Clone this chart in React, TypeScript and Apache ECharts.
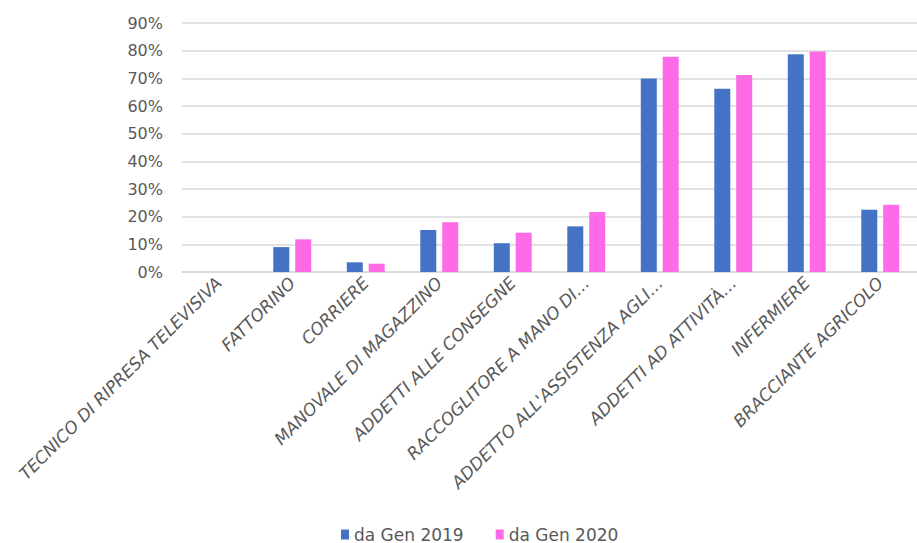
import React, { useEffect, useRef } from "react";
import * as echarts from "echarts";

const categories = [
  "TECNICO DI RIPRESA TELEVISIVA",
  "FATTORINO",
  "CORRIERE",
  "MANOVALE DI MAGAZZINO",
  "ADDETTI ALLE CONSEGNE",
  "RACCOGLITORE A MANO DI…",
  "ADDETTO ALL'ASSISTENZA AGLI…",
  "ADDETTI AD ATTIVITÀ…",
  "INFERMIERE",
  "BRACCIANTE AGRICOLO",
];
const seriesNames = ["da Gen 2019", "da Gen 2020"];
const values2019 = [0, 9, 3.5, 15.2, 10.4, 16.5, 69.9, 66.2, 78.7, 22.5];
const values2020 = [0, 11.8, 3.0, 18.0, 14.2, 21.7, 77.8, 71.2, 79.7, 24.3];
const colors = ["#4472C4", "#FF6BE6"];

export default function App() {
  const ref = useRef<HTMLDivElement>(null);
  useEffect(() => {
    document.body.style.margin = "0";
    const chart = echarts.init(ref.current!, null, { renderer: "svg" });
    chart.setOption({
      animation: false,
      grid: { left: 182, right: -15, top: 23, bottom: 271, containLabel: false },
      legend: {
        top: 526,
        left: 341,
        padding: 0,
        itemWidth: 8,
        itemHeight: 10,
        itemGap: 32,
        itemTextGap: 7,
        icon: "rect",
        textStyle: { color: "#595959", fontSize: 17, fontFamily: "DejaVu Sans", lineHeight: 17 },
        data: seriesNames,
      },
      xAxis: {
        type: "category",
        data: categories,
        axisLine: { lineStyle: { color: "#D9D9D9", width: 1.5 } },
        axisTick: { show: false },
        axisLabel: {
          rotate: 45,
          interval: 0,
          margin: 8,
          color: "#595959",
          fontSize: 17,
          fontStyle: "italic",
          fontFamily: "DejaVu Sans",
        },
      },
      yAxis: {
        type: "value",
        min: 0,
        max: 90,
        interval: 10,
        axisLine: { show: false },
        axisTick: { show: false },
        splitLine: { lineStyle: { color: "#D9D9D9", width: 1.5 } },
        axisLabel: {
          formatter: "{value}%",
          color: "#595959",
          fontSize: 16,
          fontFamily: "DejaVu Sans",
          margin: 19,
        },
      },
      series: [
        {
          name: seriesNames[0],
          type: "bar",
          data: values2019,
          barWidth: 16,
          barGap: "37%",
          itemStyle: { color: colors[0] },
        },
        {
          name: seriesNames[1],
          type: "bar",
          data: values2020,
          barWidth: 16,
          barGap: "37%",
          itemStyle: { color: colors[1] },
        },
      ],
    });
    return () => chart.dispose();
  }, []);
  return <div ref={ref} style={{ width: 917, height: 543 }} />;
}
